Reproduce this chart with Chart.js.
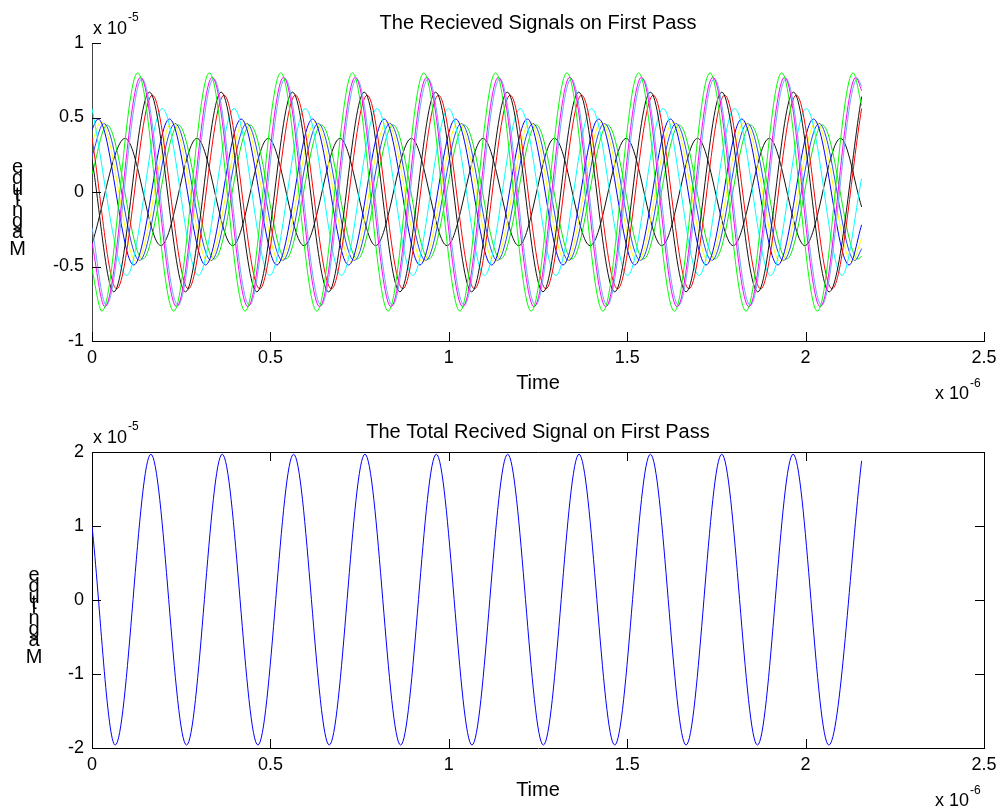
<!DOCTYPE html>
<html><head><meta charset="utf-8">
<script src="https://cdn.jsdelivr.net/npm/chart.js@4"></script>
<style>html,body{margin:0;padding:0;background:#fff;}#wrap{position:relative;width:1004px;height:812px;background:#fff;}canvas{position:absolute;left:0;}</style>
</head><body><div id="wrap"><canvas id="c1" width="1004" height="406" style="top:0px"></canvas><canvas id="c2" width="1004" height="406" style="top:406px"></canvas></div>
<script>
// ---- Data (time in units of 1e-6 s, magnitude in units of 1e-5) ----
const xTicks = [0, 0.5, 1, 1.5, 2, 2.5];
const yTicksTop = [-1, -0.5, 0, 0.5, 1];
const yTicksBottom = [-2, -1, 0, 1, 2];

const greenT = [0, 0.028, 0.128, 0.229, 0.329, 0.429, 0.529, 0.630, 0.730, 0.830, 0.930, 1.031, 1.131, 1.231, 1.331, 1.432, 1.532, 1.632, 1.732, 1.833, 1.933, 2.033, 2.133, 2.157];
const greenY = [-0.52, -0.80, 0.80, -0.80, 0.80, -0.80, 0.80, -0.80, 0.80, -0.80, 0.80, -0.80, 0.80, -0.80, 0.80, -0.80, 0.80, -0.80, 0.80, -0.80, 0.80, -0.80, 0.80, 0.58];

const magentaT = [0, 0.036, 0.136, 0.237, 0.337, 0.437, 0.537, 0.638, 0.738, 0.838, 0.938, 1.039, 1.139, 1.239, 1.339, 1.440, 1.540, 1.640, 1.740, 1.841, 1.941, 2.041, 2.141, 2.157];
const magentaY = [-0.34, -0.77, 0.77, -0.77, 0.77, -0.77, 0.77, -0.77, 0.77, -0.77, 0.77, -0.77, 0.77, -0.77, 0.77, -0.77, 0.77, -0.77, 0.77, -0.77, 0.77, -0.77, 0.77, 0.68];

const lightBlueT = [0, 0.040, 0.140, 0.241, 0.341, 0.441, 0.541, 0.642, 0.742, 0.842, 0.942, 1.043, 1.143, 1.243, 1.343, 1.444, 1.544, 1.644, 1.744, 1.845, 1.945, 2.045, 2.145, 2.157];
const lightBlueY = [-0.24, -0.76, 0.76, -0.76, 0.76, -0.76, 0.76, -0.76, 0.76, -0.76, 0.76, -0.76, 0.76, -0.76, 0.76, -0.76, 0.76, -0.76, 0.76, -0.76, 0.76, -0.76, 0.76, 0.71];

const blackBigT = [0, 0.061, 0.161, 0.262, 0.362, 0.462, 0.562, 0.663, 0.763, 0.863, 0.963, 1.064, 1.164, 1.264, 1.364, 1.465, 1.565, 1.665, 1.765, 1.866, 1.966, 2.066, 2.157];
const blackBigY = [0.22, -0.67, 0.67, -0.67, 0.67, -0.67, 0.67, -0.67, 0.67, -0.67, 0.67, -0.67, 0.67, -0.67, 0.67, -0.67, 0.67, -0.67, 0.67, -0.67, 0.67, -0.67, 0.64];

const redT = [0, 0.069, 0.169, 0.270, 0.370, 0.470, 0.570, 0.671, 0.771, 0.871, 0.971, 1.072, 1.172, 1.272, 1.372, 1.473, 1.573, 1.673, 1.773, 1.874, 1.974, 2.074, 2.157];
const redY = [0.36, -0.65, 0.65, -0.65, 0.65, -0.65, 0.65, -0.65, 0.65, -0.65, 0.65, -0.65, 0.65, -0.65, 0.65, -0.65, 0.65, -0.65, 0.65, -0.65, 0.65, -0.65, 0.56];

const cyanT = [0, 0.097, 0.197, 0.298, 0.398, 0.498, 0.598, 0.699, 0.799, 0.899, 0.999, 1.100, 1.200, 1.300, 1.400, 1.501, 1.601, 1.701, 1.801, 1.902, 2.002, 2.102, 2.157];
const cyanY = [0.56, -0.56, 0.56, -0.56, 0.56, -0.56, 0.56, -0.56, 0.56, -0.56, 0.56, -0.56, 0.56, -0.56, 0.56, -0.56, 0.56, -0.56, 0.56, -0.56, 0.56, -0.56, 0.09];

const blueT = [0, 0.017, 0.117, 0.217, 0.318, 0.418, 0.518, 0.618, 0.719, 0.819, 0.919, 1.019, 1.120, 1.220, 1.320, 1.420, 1.521, 1.621, 1.721, 1.821, 1.922, 2.022, 2.122, 2.157];
const blueY = [0.42, 0.49, -0.49, 0.49, -0.49, 0.49, -0.49, 0.49, -0.49, 0.49, -0.49, 0.49, -0.49, 0.49, -0.49, 0.49, -0.49, 0.49, -0.49, 0.49, -0.49, 0.49, -0.49, -0.22];

const yellowT = [0, 0.025, 0.125, 0.225, 0.326, 0.426, 0.526, 0.626, 0.727, 0.827, 0.927, 1.027, 1.128, 1.228, 1.328, 1.428, 1.529, 1.629, 1.729, 1.829, 1.930, 2.030, 2.130, 2.157];
const yellowY = [0.33, 0.47, -0.47, 0.47, -0.47, 0.47, -0.47, 0.47, -0.47, 0.47, -0.47, 0.47, -0.47, 0.47, -0.47, 0.47, -0.47, 0.47, -0.47, 0.47, -0.47, 0.47, -0.47, -0.31];

const blue2T = [0, 0.033, 0.133, 0.233, 0.334, 0.434, 0.534, 0.634, 0.735, 0.835, 0.935, 1.035, 1.136, 1.236, 1.336, 1.436, 1.537, 1.637, 1.737, 1.837, 1.938, 2.038, 2.138, 2.157];
const blue2Y = [0.24, 0.46, -0.46, 0.46, -0.46, 0.46, -0.46, 0.46, -0.46, 0.46, -0.46, 0.46, -0.46, 0.46, -0.46, 0.46, -0.46, 0.46, -0.46, 0.46, -0.46, 0.46, -0.46, -0.38];

const green2T = [0, 0.042, 0.142, 0.242, 0.343, 0.443, 0.543, 0.643, 0.744, 0.844, 0.944, 1.044, 1.145, 1.245, 1.345, 1.445, 1.546, 1.646, 1.746, 1.846, 1.947, 2.047, 2.147, 2.157];
const green2Y = [0.12, 0.45, -0.45, 0.45, -0.45, 0.45, -0.45, 0.45, -0.45, 0.45, -0.45, 0.45, -0.45, 0.45, -0.45, 0.45, -0.45, 0.45, -0.45, 0.45, -0.45, 0.45, -0.45, -0.43];

const blackSmallT = [0, 0.093, 0.193, 0.294, 0.394, 0.494, 0.594, 0.695, 0.795, 0.895, 0.995, 1.096, 1.196, 1.296, 1.396, 1.497, 1.597, 1.697, 1.797, 1.898, 1.998, 2.098, 2.157];
const blackSmallY = [-0.35, 0.36, -0.36, 0.36, -0.36, 0.36, -0.36, 0.36, -0.36, 0.36, -0.36, 0.36, -0.36, 0.36, -0.36, 0.36, -0.36, 0.36, -0.36, 0.36, -0.36, 0.36, -0.10];

const totalT = [0, 0.065, 0.165, 0.265, 0.365, 0.465, 0.565, 0.665, 0.765, 0.865, 0.965, 1.065, 1.165, 1.265, 1.365, 1.465, 1.565, 1.665, 1.765, 1.865, 1.965, 2.065, 2.157];
const totalY = [1.0, -1.96, 1.97, -1.96, 1.97, -1.96, 1.97, -1.96, 1.97, -1.96, 1.97, -1.96, 1.97, -1.96, 1.97, -1.96, 1.97, -1.96, 1.97, -1.96, 1.97, -1.96, 1.88];

// ---- Rendering ----
const FONT = "'Liberation Sans', Arial, Helvetica, sans-serif";
function pts(T, Y) { return T.map((t, i) => ({ x: t, y: Y[i] })); }
function ds(T, Y, color) {
  return { data: pts(T, Y), borderColor: color, borderWidth: 1, pointRadius: 0, fill: false,
           cubicInterpolationMode: 'monotone' };
}

function decorPlugin(o) {
  return {
    id: 'decor',
    afterDraw(chart) {
      const ctx = chart.ctx, a = chart.chartArea, xs = chart.scales.x, ys = chart.scales.y;
      const TL = 9;
      ctx.save();
      ctx.strokeStyle = '#000';
      ctx.lineWidth = 1;
      ctx.beginPath();
      xs.ticks.forEach(t => {
        const p = Math.round(xs.getPixelForValue(t.value)) + 0.5;
        ctx.moveTo(p, a.bottom); ctx.lineTo(p, a.bottom - TL);
        if (o.box) { ctx.moveTo(p, a.top); ctx.lineTo(p, a.top + TL); }
      });
      ys.ticks.forEach(t => {
        const p = Math.round(ys.getPixelForValue(t.value)) + 0.5;
        ctx.moveTo(a.left, p); ctx.lineTo(a.left + TL, p);
        if (o.box) { ctx.moveTo(a.right, p); ctx.lineTo(a.right - TL, p); }
      });
      if (o.box) {
        const tp = Math.round(a.top) + 0.5, rp = Math.round(a.right) + 0.5;
        ctx.moveTo(a.left, tp); ctx.lineTo(rp, tp);
        ctx.moveTo(rp, tp); ctx.lineTo(rp, a.bottom);
      }
      ctx.stroke();

      ctx.fillStyle = '#000';
      // title
      ctx.font = '20px ' + FONT;
      ctx.textAlign = 'center';
      ctx.textBaseline = 'alphabetic';
      ctx.fillText(o.title, (a.left + a.right) / 2, a.top - 14);
      // x label
      ctx.fillText('Time', (a.left + a.right) / 2, a.bottom + 48);
      // y multiplier
      ctx.textAlign = 'left';
      ctx.font = '18px ' + FONT;
      ctx.fillText('x 10', a.left + 1, a.top - 9);
      let w = ctx.measureText('x 10').width;
      ctx.font = '12px ' + FONT;
      ctx.fillText('-5', a.left + 1 + w + 1, a.top - 22);
      // x multiplier
      ctx.font = '18px ' + FONT;
      ctx.fillText('x 10', 935, a.bottom + 58);
      w = ctx.measureText('x 10').width;
      ctx.font = '12px ' + FONT;
      ctx.fillText('-6', 935 + w + 1, a.bottom + 46);
      // stacked y label (upright glyphs)
      ctx.font = '20px ' + FONT;
      ctx.textAlign = 'center';
      const label = 'Magnitude';
      let base = (a.top + a.bottom) / 2 + 63;
      for (const ch of label) {
        ctx.fillText(ch, o.ylx, base);
        base -= ctx.measureText(ch).width;
      }
      ctx.restore();
    }
  };
}

function makeChart(id, datasets, yMin, yMax, pad, opts) {
  const tickFont = { family: FONT, size: 18 };
  return new Chart(document.getElementById(id), {
    type: 'line',
    data: { datasets },
    options: {
      responsive: false, animation: false, devicePixelRatio: 1,
      layout: { padding: pad },
      plugins: { legend: { display: false }, tooltip: { enabled: false }, title: { display: false } },
      elements: { line: { tension: 0 } },
      scales: {
        x: {
          type: 'linear', min: 0, max: 2.5,
          afterBuildTicks: s => { s.ticks = xTicks.map(v => ({ value: v })); },
          ticks: { font: tickFont, color: '#000', padding: 6, autoSkip: false, maxRotation: 0,
                   callback: v => String(v) },
          grid: { display: false, drawTicks: false },
          border: { display: true, color: '#000', width: 1 },
          afterFit: s => { s.height = opts.xh; s.paddingLeft = 0; s.paddingRight = 0; s.paddingTop = 0; s.paddingBottom = 0; }
        },
        y: {
          type: 'linear', min: yMin, max: yMax,
          afterBuildTicks: s => { s.ticks = opts.yTicks.map(v => ({ value: v })); },
          ticks: { font: tickFont, color: '#000', padding: 8, autoSkip: false,
                   callback: v => String(v) },
          grid: { display: false, drawTicks: false },
          border: { display: true, color: opts.leftColor, width: 1 },
          afterFit: s => { s.width = 92; s.paddingLeft = 0; s.paddingRight = 0; s.paddingTop = 0; s.paddingBottom = 0; }
        }
      }
    },
    plugins: [decorPlugin(opts)]
  });
}

makeChart('c1', [
  ds(greenT, greenY, '#00ff00'),
  ds(magentaT, magentaY, '#ff00ff'),
  ds(lightBlueT, lightBlueY, '#66aaff'),
  ds(blackBigT, blackBigY, '#111111'),
  ds(redT, redY, '#ff0000'),
  ds(cyanT, cyanY, '#00ffff'),
  ds(blueT, blueY, '#0000ff'),
  ds(yellowT, yellowY, '#ffff00'),
  ds(blue2T, blue2Y, '#2244ff'),
  ds(green2T, green2Y, '#00ee00'),
  ds(blackSmallT, blackSmallY, '#111111')
], -1, 1, { left: 0, right: 20, top: 43, bottom: 0 },
  { box: false, title: 'The Recieved Signals on First Pass', ylx: 17.5, yTicks: yTicksTop, leftColor: '#444', xh: 65 });

makeChart('c2', [
  ds(totalT, totalY, '#0000ff')
], -2, 2, { left: 0, right: 20, top: 46, bottom: 0 },
  { box: true, title: 'The Total Recived Signal on First Pass', ylx: 34, yTicks: yTicksBottom, leftColor: '#000', xh: 64 });
</script>
</body></html>
